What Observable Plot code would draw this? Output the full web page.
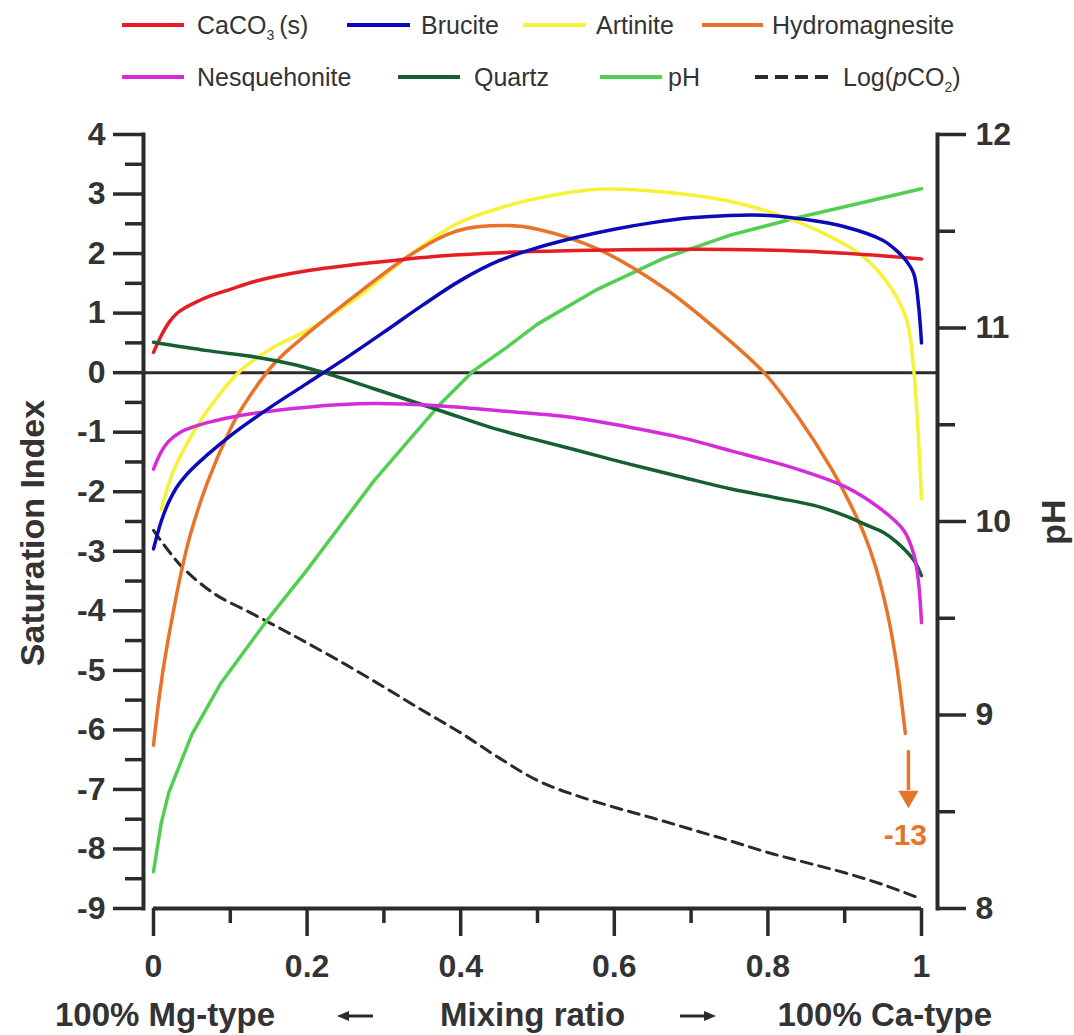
<!DOCTYPE html>
<html><head><meta charset="utf-8">
<script src="https://cdn.jsdelivr.net/npm/d3@7"></script>
<script src="https://cdn.jsdelivr.net/npm/@observablehq/plot@0.6"></script>
<style>
body{margin:0;background:#fff;}
#wrap{position:relative;width:1074px;height:1035px;font-family:"Liberation Sans",Arial,sans-serif;color:#333;overflow:hidden;}
.lg{position:absolute;font-size:25px;line-height:1;white-space:nowrap;transform:translateY(-50%);color:#333;}
.sw{position:absolute;overflow:visible;}
.lab{position:absolute;font-weight:bold;font-size:33px;line-height:1;white-space:nowrap;color:#333;}
</style></head><body><div id="wrap"></div>
<script>
// ---------- data ----------
const xMajor = [0, 0.2, 0.4, 0.6, 0.8, 1];
const xMinor = [0.1, 0.3, 0.5, 0.7, 0.9];
const siMajor = [-9, -8, -7, -6, -5, -4, -3, -2, -1, 0, 1, 2, 3, 4];
const siMinor = [-8.5, -7.5, -6.5, -5.5, -4.5, -3.5, -2.5, -1.5, -0.5, 0.5, 1.5, 2.5, 3.5];
const pHMajor = [8, 9, 10, 11, 12];
const pHMinor = [8.5, 9.5, 10.5, 11.5];

const caco3X = [0, 0.01, 0.02, 0.03, 0.04, 0.05, 0.07, 0.1, 0.134, 0.2, 0.287, 0.374, 0.46, 0.55, 0.65, 0.75, 0.85, 0.93, 1.0];
const caco3Y = [0.34, 0.62, 0.84, 0.99, 1.08, 1.15, 1.27, 1.4, 1.54, 1.71, 1.85, 1.96, 2.02, 2.05, 2.07, 2.07, 2.04, 1.98, 1.91];

const bruciteX = [0, 0.01, 0.02, 0.03, 0.04, 0.05, 0.07, 0.1, 0.15, 0.2, 0.25, 0.3, 0.35, 0.4, 0.45, 0.5, 0.55, 0.6, 0.65, 0.7, 0.75, 0.8, 0.85, 0.9, 0.95, 0.97, 0.98, 0.99, 0.996, 1.0];
const bruciteY = [-2.96, -2.5, -2.17, -1.93, -1.76, -1.62, -1.38, -1.06, -0.6, -0.18, 0.24, 0.68, 1.13, 1.55, 1.88, 2.1, 2.27, 2.41, 2.52, 2.6, 2.64, 2.64, 2.57, 2.45, 2.22, 2.02, 1.88, 1.66, 1.15, 0.5];

const artiniteX = [0.01, 0.026, 0.048, 0.07, 0.113, 0.157, 0.2, 0.265, 0.33, 0.395, 0.46, 0.52, 0.578, 0.64, 0.708, 0.76, 0.816, 0.882, 0.925, 0.96, 0.981, 0.99, 0.996, 1.0];
const artiniteY = [-2.3, -1.65, -1.09, -0.64, 0.03, 0.43, 0.71, 1.26, 1.94, 2.5, 2.8, 2.98, 3.08, 3.06, 2.97, 2.85, 2.64, 2.28, 1.94, 1.43, 0.87, 0.03, -1.09, -2.12];

const hydroX = [0, 0.005, 0.013, 0.026, 0.037, 0.048, 0.07, 0.1, 0.113, 0.157, 0.2, 0.265, 0.33, 0.395, 0.46, 0.5, 0.578, 0.664, 0.73, 0.795, 0.838, 0.882, 0.905, 0.925, 0.94, 0.955, 0.967, 0.979];
const hydroY = [-6.26, -5.7, -4.95, -4.0, -3.3, -2.72, -1.85, -0.95, -0.64, 0.15, 0.65, 1.32, 1.94, 2.38, 2.47, 2.41, 2.08, 1.43, 0.76, 0.0, -0.72, -1.6, -2.15, -2.7, -3.25, -4.0, -4.85, -6.06];

const nesqX = [0, 0.01, 0.02, 0.035, 0.05, 0.07, 0.113, 0.2, 0.287, 0.374, 0.46, 0.55, 0.621, 0.69, 0.751, 0.838, 0.903, 0.947, 0.977, 0.99, 0.996, 1.0];
const nesqY = [-1.62, -1.33, -1.15, -1.0, -0.92, -0.84, -0.72, -0.58, -0.52, -0.56, -0.65, -0.76, -0.92, -1.1, -1.31, -1.62, -1.93, -2.29, -2.65, -3.05, -3.5, -4.2];

const quartzX = [0, 0.07, 0.134, 0.178, 0.222, 0.287, 0.374, 0.439, 0.49, 0.55, 0.621, 0.69, 0.751, 0.81, 0.86, 0.9, 0.925, 0.95, 0.968, 0.99, 1.0];
const quartzY = [0.51, 0.37, 0.26, 0.15, 0.0, -0.27, -0.64, -0.92, -1.1, -1.3, -1.54, -1.76, -1.95, -2.1, -2.23, -2.4, -2.54, -2.68, -2.85, -3.15, -3.41];

const pHX = [0, 0.01, 0.02, 0.035, 0.05, 0.087, 0.148, 0.2, 0.287, 0.374, 0.417, 0.46, 0.5, 0.578, 0.664, 0.751, 0.838, 0.925, 1.0];
const pHY = [8.19, 8.44, 8.6, 8.75, 8.9, 9.16, 9.49, 9.75, 10.21, 10.61, 10.78, 10.9, 11.02, 11.2, 11.36, 11.48, 11.57, 11.65, 11.72];

const pco2X = [0, 0.02, 0.04, 0.08, 0.126, 0.17, 0.2, 0.25, 0.3, 0.35, 0.4, 0.45, 0.5, 0.55, 0.6, 0.65, 0.7, 0.75, 0.8, 0.85, 0.9, 0.95, 1.0];
const pco2Y = [-2.65, -3.0, -3.3, -3.72, -4.03, -4.33, -4.54, -4.9, -5.28, -5.67, -6.05, -6.47, -6.85, -7.1, -7.3, -7.48, -7.67, -7.86, -8.06, -8.23, -8.4, -8.6, -8.84];

// off-scale hydromagnesite annotation (value -13)
const hydroArrowX = [0.983];
const hydroArrowY = [-6.35, -7.02];
const hydroHeadY = [-7.12];
const hydroLabel = ["-13"];
const hydroLabelPos = [0.979, -7.78];

// ---------- styles ----------
const C = {
  caco3: "#e31e24", brucite: "#0a0ab8", artinite: "#f6f238", hydro: "#e8732a",
  nesq: "#d62bd8", quartz: "#155f32", pH: "#52cf52", pco2: "#2a2a2a", axis: "#2b2b2b", text: "#333333"
};
const toSI = ph => -9 + (ph - 8) * 13 / 4;
const fromSI = si => 8 + (si + 9) * 4 / 13;
const pts = (xs, ys) => xs.map((x, i) => ({x, y: ys[i]}));
const LW = 3.5;
const CURVE = "catmull-rom";

const plot = Plot.plot({
  width: 1074, height: 1035,
  marginLeft: 143, marginRight: 137, marginTop: 134, marginBottom: 127,
  style: {fontFamily: '"Liberation Sans", Arial, sans-serif', background: "transparent", position: "absolute", left: "0px", top: "0px", overflow: "visible"},
  x: {domain: [0, 1], insetLeft: 10, insetRight: 16},
  y: {domain: [-9, 4]},
  marks: [
    Plot.ruleY([0], {stroke: C.axis, strokeWidth: 3}),
    Plot.line(pts(pco2X, pco2Y), {x: "x", y: "y", stroke: C.pco2, strokeWidth: 3, strokeDasharray: "11,7", curve: CURVE}),
    Plot.line(pts(pHX, pHY), {x: "x", y: d => toSI(d.y), stroke: C.pH, strokeWidth: LW, curve: "linear"}),
    Plot.line(pts(artiniteX, artiniteY), {x: "x", y: "y", stroke: C.artinite, strokeWidth: LW, curve: CURVE}),
    Plot.line(pts(hydroX, hydroY), {x: "x", y: "y", stroke: C.hydro, strokeWidth: LW, curve: CURVE}),
    Plot.line(pts(caco3X, caco3Y), {x: "x", y: "y", stroke: C.caco3, strokeWidth: LW, curve: CURVE}),
    Plot.line(pts(quartzX, quartzY), {x: "x", y: "y", stroke: C.quartz, strokeWidth: LW, curve: CURVE}),
    Plot.line(pts(nesqX, nesqY), {x: "x", y: "y", stroke: C.nesq, strokeWidth: LW, curve: CURVE}),
    Plot.line(pts(bruciteX, bruciteY), {x: "x", y: "y", stroke: C.brucite, strokeWidth: LW, curve: CURVE}),
    // -13 arrow
    Plot.ruleX(hydroArrowX, {y1: hydroArrowY[0], y2: hydroArrowY[1], stroke: C.hydro, strokeWidth: LW}),
    Plot.dot(hydroArrowX, {x: d => d, y: hydroHeadY[0], symbol: "triangle", r: 7.5, fill: C.hydro, stroke: null, rotate: 180}),
    Plot.text(hydroLabel, {x: hydroLabelPos[0], y: hydroLabelPos[1], text: d => d, fill: C.hydro, fontSize: 30, fontWeight: "bold"}),
    // axes
    Plot.frame({anchor: "left", stroke: C.axis, strokeWidth: 4}),
    Plot.frame({anchor: "right", stroke: C.axis, strokeWidth: 4}),
    Plot.ruleY([siMajor[0]], {x1: xMajor[0], x2: xMajor[xMajor.length - 1], stroke: C.axis, strokeWidth: 4}),
    Plot.axisY(siMajor, {anchor: "left", tickSize: 30, tickPadding: 8, strokeWidth: 3.5, stroke: C.axis, fill: C.text, fontSize: 32, fontWeight: "bold", tickFormat: d => String(d), label: null}),
    Plot.axisY(siMinor, {anchor: "left", tickSize: 18, strokeWidth: 3.5, stroke: C.axis, tickFormat: () => "", label: null}),
    Plot.axisY(pHMajor.map(toSI), {anchor: "right", tickSize: 28, tickPadding: 10, strokeWidth: 3.5, stroke: C.axis, fill: C.text, fontSize: 32, fontWeight: "bold", tickFormat: d => String(Math.round(fromSI(d))), label: null}),
    Plot.axisY(pHMinor.map(toSI), {anchor: "right", tickSize: 17, strokeWidth: 3.5, stroke: C.axis, tickFormat: () => "", label: null}),
    Plot.axisX(xMajor, {anchor: "bottom", tickSize: 28, tickPadding: 18, strokeWidth: 3.5, stroke: C.axis, fill: C.text, fontSize: 32, fontWeight: "bold", tickFormat: d => String(d), label: null}),
    Plot.axisX(xMinor, {anchor: "bottom", tickSize: 15, strokeWidth: 3.5, stroke: C.axis, tickFormat: () => "", label: null})
  ]
});
const wrap = document.getElementById("wrap");
wrap.appendChild(plot);

// ---------- legend (HTML, above the plot area) ----------
const legendLabels = ["CaCO<span style='font-size:14px;position:relative;top:6px'>3</span>&thinsp;(s)", "Brucite", "Artinite", "Hydromagnesite",
  "Nesquehonite", "Quartz", "pH", "Log(<i>p</i>CO<span style='font-size:14px;position:relative;top:6px'>2</span>)"];
const legendColors = [C.caco3, C.brucite, C.artinite, C.hydro, C.nesq, C.quartz, C.pH, C.pco2];
const legendLayout = [
  [122, 184, 197, 25], [347, 410, 421, 25], [523, 586, 596, 25], [702, 763, 772, 25],
  [122, 184, 197, 77], [398, 460, 474, 77], [600, 662, 668, 77], [755, 829, 843, 77]
];
const NS = "http://www.w3.org/2000/svg";
legendLabels.forEach((lab, i) => {
  const [x1, x2, tx, cy] = legendLayout[i];
  const dashed = i === 7;
  const sw = document.createElementNS(NS, "svg");
  sw.setAttribute("class", "sw");
  sw.setAttribute("width", x2 - x1); sw.setAttribute("height", 8);
  sw.style.left = x1 + "px"; sw.style.top = (cy - 4) + "px";
  sw.innerHTML = `<line x1="0" x2="${x2 - x1}" y1="4" y2="4" stroke="${legendColors[i]}" stroke-width="4" ${dashed ? 'stroke-dasharray="13,7"' : ''}/>`;
  wrap.appendChild(sw);
  const t = document.createElement("div");
  t.className = "lg"; t.innerHTML = lab;
  t.style.left = tx + "px"; t.style.top = cy + "px";
  wrap.appendChild(t);
});

// ---------- axis titles ----------
function addLabel(html, x, y, tf, extra) {
  const d = document.createElement("div");
  d.className = "lab"; d.innerHTML = html;
  d.style.left = x + "px"; d.style.top = y + "px"; d.style.transform = tf;
  if (extra) Object.assign(d.style, extra);
  wrap.appendChild(d);
}
function addArrow(cx, cy, dir) {
  const w = 36;
  const s = document.createElementNS(NS, "svg");
  s.setAttribute("class", "sw");
  s.setAttribute("width", w); s.setAttribute("height", 14);
  s.style.left = (cx - w / 2) + "px"; s.style.top = (cy - 7) + "px";
  const head = dir < 0 ? "M0,7 L12,2 L12,12 Z" : `M${w},7 L${w - 12},2 L${w - 12},12 Z`;
  s.innerHTML = `<line x1="${dir < 0 ? 8 : 0}" x2="${dir < 0 ? w : w - 8}" y1="7" y2="7" stroke="#2b2b2b" stroke-width="3"/><path d="${head}" fill="#2b2b2b"/>`;
  wrap.appendChild(s);
}
addLabel("Saturation Index", 32, 533, "translate(-50%,-50%) rotate(-90deg)", {fontSize: "34px"});
addLabel("pH", 1053, 522, "translate(-50%,-50%) rotate(-90deg)", {fontSize: "34px"});
addLabel("100% Mg-type", 275, 1014, "translate(-100%,-50%)");
addArrow(355, 1016, -1);
addLabel("Mixing ratio", 440, 1014, "translate(0,-50%)");
addArrow(698, 1016, 1);
addLabel("100% Ca-type", 992, 1014, "translate(-100%,-50%)");
</script></body></html>
